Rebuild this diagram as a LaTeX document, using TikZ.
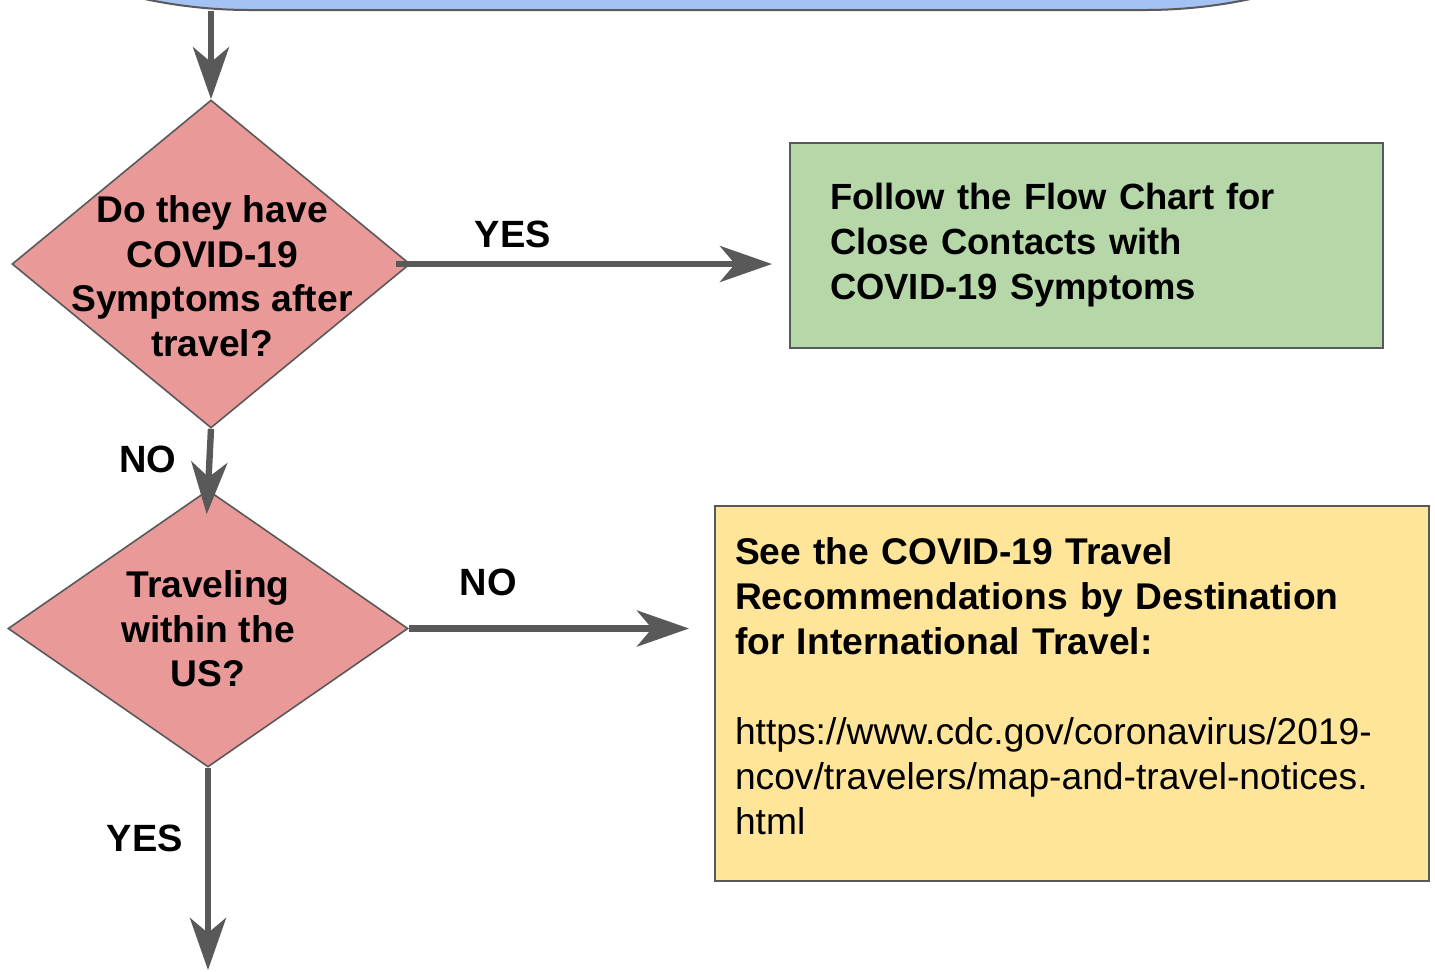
\documentclass[tikz,border=0pt]{standalone}
\usepackage{fontspec}
\setmainfont{Liberation Sans}
\usetikzlibrary{shapes.geometric,arrows.meta,positioning}

\definecolor{linegray}{HTML}{595959}
\definecolor{startblue}{HTML}{A4C2F4}
\definecolor{decpink}{HTML}{EA9999}
\definecolor{contactgreen}{HTML}{B6D7A8}
\definecolor{travelyellow}{HTML}{FFE599}

\tikzset{
  startbox/.style={shape=rectangle, draw=linegray, line width=1pt, fill=startblue},
  decision/.style={shape=diamond, draw=linegray, line width=0.8pt, fill=decpink, inner sep=0pt},
  qtext/.style={align=center, inner sep=0pt, font=\bfseries\fontsize{18.6}{22.25}\selectfont},
  result/.style={shape=rectangle, draw=linegray, line width=1pt, align=left, inner ysep=0pt,
    font=\fontsize{18.6}{22.5}\selectfont},
  answer/.style={inner sep=0pt, font=\bfseries\fontsize{19}{22.5}\selectfont},
  flow/.style={draw=linegray, line width=3.2pt, -{Stealth[length=26pt, width=18pt, inset=7.5pt]}}
}

\begin{document}
\begin{tikzpicture}[x=0.5pt, y=-0.5pt]
\clip (0,0) rectangle (1435,971);

\node[startbox, minimum width=952.5pt, minimum height=600pt, rounded corners=252.5pt] (S) at (697.5,-590) {};

\node[decision, minimum width=199pt, minimum height=164pt] (Q1) at (211,264) {};
\node[qtext] (T1) at (212,276) {Do they have\\COVID-19\\Symptoms after\\travel?};

\node[decision, minimum width=200pt, minimum height=138.5pt] (Q2) at (208,628.5) {};
\node[qtext] (T2) at (208,629) {Traveling\\within the\\US?};

\node[result, fill=contactgreen, minimum width=296.5pt, minimum height=102.5pt, text width=256.5pt, inner xsep=20pt,
  font=\fontsize{18.2}{22.5}\selectfont] (C1) at (1086.5,245.5)
  {\textbf{Follow the Flow Chart for}\\\textbf{Close Contacts with}\\\textbf{COVID-19 Symptoms}};
\node[result, fill=travelyellow, minimum width=357pt, minimum height=187.5pt, text width=337pt, inner xsep=10pt] (C2) at (1072,693.5)
  {\textbf{See the COVID-19 Travel}\\\textbf{Recommendations by Destination}\\\textbf{for International Travel:}\\[22.5pt]
   https://www.cdc.gov/coronavirus/2019-\\ncov/travelers/map-and-travel-notices.\\html\\[-15.5pt]\mbox{}};

\coordinate (out) at (208,970);

\draw[flow] (Q1.north |- S.south) -- (Q1.north);
\draw[flow, shorten <=-7.5pt, shorten >=8.5pt] (Q1.east) -- node[answer, pos=0.27, above=6.5pt] {YES} (C1.west |- Q1.east);
\draw[flow, shorten >=-12.5pt] (Q1.south) -- node[answer, pos=0.5, left=15pt] {NO} (Q2.north);
\draw[flow, shorten >=12.5pt] (Q2.east) -- node[answer, pos=0.26, above=14.5pt] {NO} (C2.west |- Q2.east);
\draw[flow] (Q2.south) -- node[answer, pos=0.35, left=11pt] {YES} (out);
\end{tikzpicture}
\end{document}
